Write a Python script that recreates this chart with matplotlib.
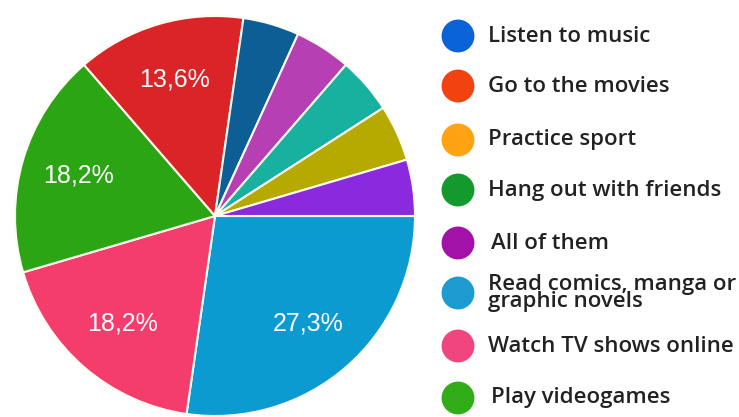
import matplotlib.pyplot as plt

# pie slices (22 responses), clockwise from 3 o'clock
counts = [6, 4, 4, 3, 1, 1, 1, 1, 1]
pie_colors = ['#0c9bd1', '#f43d6d', '#2ca515', '#db2428', '#0e5e96',
              '#b63fb4', '#18b1a0', '#b6a900', '#8b29de']

# legend entries as shown next to the pie
legend_labels = ['Listen to music', 'Go to the movies', 'Practice sport',
                 'Hang out with friends', 'All of them',
                 'Read comics, manga or\ngraphic novels',
                 'Watch TV shows online', 'Play videogames']
legend_colors = ['#0b63d8', '#f2420f', '#ffa312', '#149a2c', '#a211a8',
                 '#1c9bd1', '#f1457f', '#31ad1a']


def pct_label(p):
    if p < 10:
        return ''
    return ('%.1f%%' % p).replace('.', ',')


fig = plt.figure(figsize=(7.39, 4.17), dpi=100)
ax = fig.add_axes([13 / 739, -1 / 417, 404 / 739, 404 / 417])
wedges, texts, autotexts = ax.pie(counts, colors=pie_colors, startangle=0,
                                  counterclock=False, autopct=pct_label,
                                  pctdistance=0.71, radius=1,
                                  wedgeprops=dict(edgecolor='#fbfbf0', linewidth=1.5))
for t in autotexts:
    t.set_color('white')
    t.set_fontsize(18)
    t.set_family('Liberation Sans')
ax.set_xlim(-1.01, 1.01)
ax.set_ylim(-1.01, 1.01)
ax.set_aspect('equal')

# legend drawn in its own axes, pixel-like coordinates
lax = fig.add_axes([430 / 739, 0, 309 / 739, 1])
lax.set_xlim(430, 739)
lax.set_ylim(417, 0)
lax.axis('off')
ys = [36, 86, 140, 190, 243, 293, 346, 398]
for y, lab, col in zip(ys, legend_labels, legend_colors):
    lax.scatter([458], [y], s=560, color=col, edgecolors='none')
    tx = 491 if lab in ('All of them', 'Play videogames') else 488
    lax.text(tx, y, lab, fontsize=16, family='Open Sans', weight='semibold',
             va='center', ha='left', color='#222222', linespacing=0.72)

fig.savefig('out.png', dpi=100)
